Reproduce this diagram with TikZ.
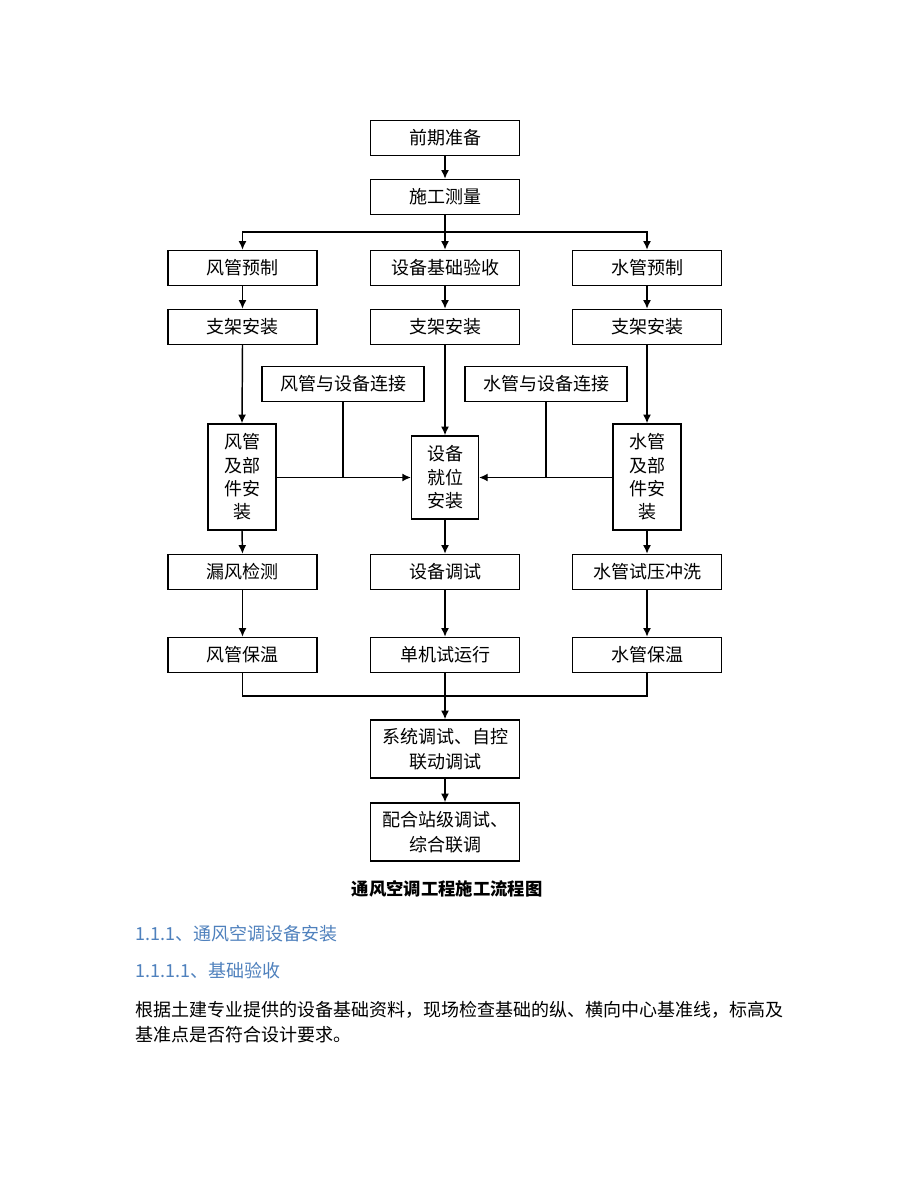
\documentclass[tikz,border=0pt]{standalone}
\usepackage{fontspec}
\setmainfont{Noto Sans CJK SC}
\usetikzlibrary{arrows.meta}
\definecolor{headblue}{RGB}{79,129,189}
\begin{document}
\begin{tikzpicture}[x=0.75pt,y=-0.75pt,
  every node/.style={font=\fontsize{13.5pt}{17.5pt}\selectfont},
  bx/.style={draw,line width=1.1pt,inner sep=0pt,minimum width=111.75pt,minimum height=26.25pt,align=center},
  wbx/.style={bx,minimum width=121.5pt},
  tbx/.style={bx,minimum width=51pt,minimum height=79.5pt},
  cbx/.style={bx,minimum width=50pt,minimum height=62.25pt},
  dbx/.style={bx,minimum height=43.5pt,font=\fontsize{13.5pt}{19pt}\selectfont},
  ln/.style={line width=1.1pt},
  arr/.style={ln,-{Latex[length=6.5pt,width=6pt]}}]
\useasboundingbox (0,0) rectangle (920,1191);
\fill[white] (0,0) rectangle (920,1191);
% boxes
\node[bx] (pre) at (445,138) {前期准备};
\node[bx] (meas) at (445,197) {施工测量};
\node[bx] (fgyz) at (242.5,268) {风管预制};
\node[bx] (sbjs) at (445,268) {设备基础验收};
\node[bx] (sgyz) at (647,268) {水管预制};
\node[bx] (zj1) at (242.5,327) {支架安装};
\node[bx] (zj2) at (445,327) {支架安装};
\node[bx] (zj3) at (647,327) {支架安装};
\node[wbx] (fglj) at (343,384) {风管与设备连接};
\node[wbx] (sglj) at (546,384) {水管与设备连接};
\node[tbx] (fgaz) at (242,477) {风管\\及部\\件安\\装};
\node[cbx] (sbjw) at (445,477.5) {设备\\就位\\安装};
\node[tbx] (sgaz) at (647,477) {水管\\及部\\件安\\装};
\node[bx] (lfjc) at (242.5,572) {漏风检测};
\node[bx] (sbts) at (445,572) {设备调试};
\node[bx] (sgsy) at (647,572) {水管试压冲洗};
\node[bx] (fgbw) at (242.5,655) {风管保温};
\node[bx] (djsy) at (445,655) {单机试运行};
\node[bx] (sgbw) at (647,655) {水管保温};
\node[dbx] (xtts) at (445,749) {系统调试、自控\\联动调试};
\node[dbx] (phzj) at (445,832) {配合站级调试、\\综合联调};
% connectors
\coordinate (split) at (445,232);
\coordinate (merge) at (445,696);
\draw[arr] (pre) -- (meas);
\draw[ln] (meas.south) -- (split);
\draw[arr] (split) -- (sbjs.north);
\draw[arr] (split) -| (fgyz.north);
\draw[arr] (split) -| (sgyz.north);
\draw[arr] (fgyz) -- (zj1);
\draw[arr] (sbjs) -- (zj2);
\draw[arr] (sgyz) -- (zj3);
\draw[arr] (zj1.south) -- (fgaz.north);
\draw[arr] (zj2.south) -- (sbjw.north);
\draw[arr] (zj3.south) -- (sgaz.north);
\draw[arr] (fgaz.east |- sbjw.west) -- (sbjw.west);
\draw[arr] (sgaz.west |- sbjw.east) -- (sbjw.east);
\draw[ln] (fglj.south) -- (fglj.south |- sbjw.west);
\draw[ln] (sglj.south) -- (sglj.south |- sbjw.east);
\draw[arr] (fgaz.south) -- (lfjc.north);
\draw[arr] (sbjw.south) -- (sbts.north);
\draw[arr] (sgaz.south) -- (sgsy.north);
\draw[arr] (lfjc) -- (fgbw);
\draw[arr] (sbts) -- (djsy);
\draw[arr] (sgsy) -- (sgbw);
\draw[ln] (fgbw.south) |- (merge) -| (sgbw.south);
\draw[arr] (djsy.south) -- (xtts.north);
\draw[arr] (xtts) -- (phzj);
% texts
\node[font=\fontsize{13pt}{17pt}\selectfont\bfseries] (cap) at (447,889) {通风空调工程施工流程图};
\node[anchor=west,text=headblue,inner sep=0pt] (h1) at (135,934) {1.1.1、通风空调设备安装};
\node[anchor=west,text=headblue,inner sep=0pt] (h2) at (135,971) {1.1.1.1、基础验收};
\node[anchor=west,inner sep=0pt] (p1) at (135,1010) {根据土建专业提供的设备基础资料，现场检查基础的纵、横向中心基准线，标高及};
\node[anchor=west,inner sep=0pt] (p2) at (135,1035) {基准点是否符合设计要求。};
\end{tikzpicture}
\end{document}
